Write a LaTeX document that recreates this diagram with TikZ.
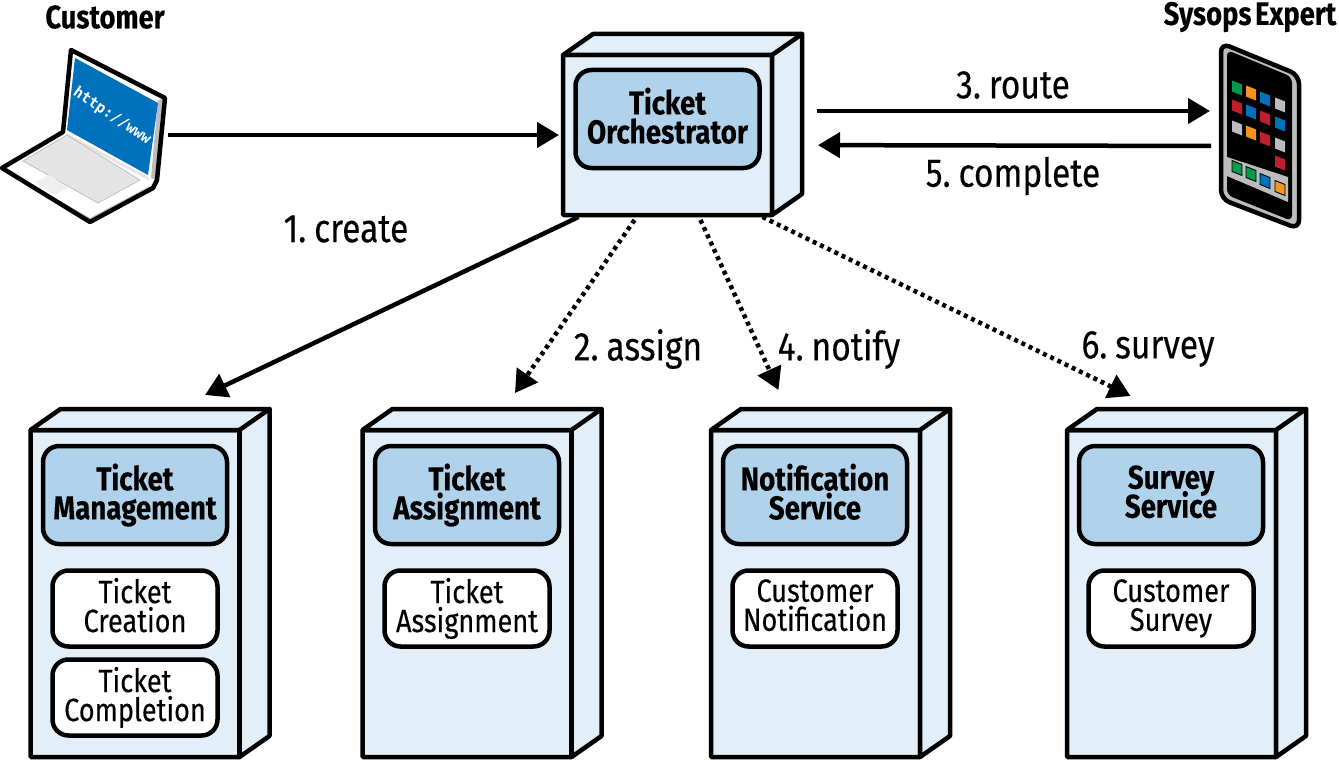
\documentclass[tikz,border=0pt]{standalone}
\usepackage{fontspec}
\setmainfont[FakeStretch=0.84, FakeBold=0.25, WordSpace=0.55, BoldFont={Fira Sans Bold}, BoldFeatures={FakeStretch=0.84, WordSpace=0.55}]{Fira Sans}
\setmonofont{DejaVu Sans Mono}
\usetikzlibrary{arrows.meta}
\definecolor{boxfill}{HTML}{E3EFF8}
\definecolor{headfill}{HTML}{B0D2EA}
\definecolor{keygrey}{HTML}{E4E4E4}
\definecolor{padgrey}{HTML}{EFEFEF}
\definecolor{lidblue}{HTML}{0071BC}
\definecolor{appgreen}{HTML}{009A4E}
\definecolor{apporange}{HTML}{F7941E}
\definecolor{appblue}{HTML}{0072BC}
\definecolor{appred}{HTML}{BE1E2D}
\definecolor{appgrey}{HTML}{BCBCBC}
\newcommand{\topfill}{\lineskiplimit=-20pt\rule{0pt}{26pt}}
\newcommand{\lowfill}{\rule[-7pt]{0pt}{7pt}}
\tikzset{
  box/.style={draw, line width=4.5pt, fill=boxfill, outer sep=0pt, inner sep=0pt, minimum width=209pt, rounded corners=1pt},
  side/.style={draw, line width=4.5pt, fill=boxfill, line join=round},
  edge3d/.style={line width=4.5pt, line cap=round},
  head/.style={draw, line width=4.5pt, fill=headfill, rounded corners=16pt, outer sep=0pt, inner sep=0pt, minimum width=184pt, minimum height=98pt, align=center, font=\fontsize{33}{29}\selectfont\bfseries, execute at begin node=\topfill, execute at end node=\lowfill},
  part/.style={draw, line width=4.5pt, fill=white, rounded corners=16pt, outer sep=0pt, inner sep=0pt, minimum width=165pt, minimum height=76pt, align=center, font=\fontsize{32.3}{29}\selectfont, execute at begin node=\topfill, execute at end node=\lowfill},
  flow/.style={line width=4.5pt, -{Triangle[length=22pt,width=25pt]}},
  dots/.style={flow, dash pattern=on 4pt off 4pt},
  word/.style={font=\fontsize{40}{40}\selectfont},
  actor/.style={font=\fontsize{32.5}{32.5}\selectfont\bfseries},
  app/.style={minimum width=10pt, minimum height=11pt, inner sep=0pt, outer sep=0pt, yslant=-0.4, transform shape},
  dock/.style={app, draw=black, line width=0.9pt},
}
\begin{document}
\begin{tikzpicture}[x=1pt, y=-1pt]
\useasboundingbox (0,0) rectangle (1339,760);
% laptop
\node[minimum width=165pt, minimum height=174pt, inner sep=0pt, outer sep=0pt] (laptop) at (83,135){};
\fill[white] (71,50) -- (165,98) -- (157,180) -- (63,132) -- cycle;
\fill[appgrey] (158,100) -- (165,98) -- (157,180) -- (151,178) -- cycle;
\fill[lidblue] (75,58) -- (158,103) -- (148,175) -- (67,130) -- cycle;
\fill[white] (63,132) -- (2,168) -- (90,222) -- (153,188) -- (152,180) -- cycle;
\fill[keygrey] (66,133) -- (148,177) -- (150,181) -- (66,136) -- cycle;
\fill[appgrey] (6,170) -- (90,218) -- (150,186) -- (150,191) -- (90,220) -- (6,172) -- cycle;
\draw[fill=keygrey, draw=appgrey, line width=0.7pt] (23,161) -- (67,135) -- (140,180) -- (98,203) -- cycle;
\fill[padgrey] (35,182) -- (50,175) -- (68,188) -- (55,195) -- cycle;
\draw[line width=4.5pt, line join=round] (63,132) -- (71,50) -- (165,98) -- (157,180) -- (153,188) -- (90,222) -- (2,168) -- cycle;
\node[text=white, rotate=-34, font=\fontsize{15}{15}\selectfont\ttfamily\bfseries, inner sep=0pt] (url) at (112,116){http://www};
\node[actor] (customer) at (105,17){Customer};
% phone
\node[minimum width=80pt, minimum height=188pt, inner sep=0pt, outer sep=0pt] (phone) at (1260,136){};
\draw[line width=4.5pt, fill=appgrey, rounded corners=9pt] (1221,43) -- (1299,75) -- (1299,229) -- (1221,199) -- cycle;
\fill[black, rounded corners=6pt] (1227,50) -- (1292,77) -- (1292,221) -- (1227,195) -- cycle;
\fill[appgrey] (1227,157) -- (1288,177) -- (1288,202) -- (1227,176) -- cycle;
\node[app, fill=appgreen] (app1) at (1237,88){};
\node[app, fill=apporange] (app2) at (1251,93){};
\node[app, fill=appblue] (app3) at (1265,99){};
\node[app, fill=appgrey] (app4) at (1280,105){};
\node[app, fill=appred] (app5) at (1237,107){};
\node[app, fill=appblue] (app6) at (1251,112){};
\node[app, fill=appred] (app7) at (1265,118){};
\node[app, fill=appblue] (app8) at (1280,124){};
\node[app, fill=appgrey] (app9) at (1237,128){};
\node[app, fill=apporange] (app10) at (1251,133){};
\node[app, fill=appred] (app11) at (1265,139){};
\node[app, fill=appgrey] (app12) at (1280,145){};
\node[app, fill=appred] (app13) at (1280,163){};
\node[dock, fill=appgreen] (app14) at (1237,168){};
\node[dock, fill=appgreen] (app15) at (1251,174){};
\node[dock, fill=appblue] (app16) at (1265,181){};
\node[dock, fill=apporange] (app17) at (1280,188){};
\node[actor] (sysops) at (1250,17){Sysops Expert};
% orchestrator
\node[box, minimum height=160pt] (orch) at (667.5,135){};
\draw[side] (orch.north west) -- ++(30,-21) -- ++(209,0) -- ++(0,160) -- ++(-30,21) -- (orch.north east) -- cycle;
\draw[edge3d] (orch.north east) -- ++(30,-21);
\draw[edge3d] (orch.north east) -- (orch.south east);
\node[head] (orchhead) at (667.5,119){Ticket\\Orchestrator};
% services
\node[box, minimum height=327pt] (mgmt) at (135,593.5){};
\draw[side] (mgmt.north west) -- ++(30,-21) -- ++(209,0) -- ++(0,327) -- ++(-30,21) -- (mgmt.north east) -- cycle;
\draw[edge3d] (mgmt.north east) -- ++(30,-21);
\draw[edge3d] (mgmt.north east) -- (mgmt.south east);
\node[head] (mgmthead) at (135,495){Ticket\\Management};
\node[part] (creation) at (135,608.5){Ticket\\Creation};
\node[part] (completion) at (135,697.5){Ticket\\Completion};
\node[box, minimum height=327pt] (assign) at (467,593.5){};
\draw[side] (assign.north west) -- ++(30,-21) -- ++(209,0) -- ++(0,327) -- ++(-30,21) -- (assign.north east) -- cycle;
\draw[edge3d] (assign.north east) -- ++(30,-21);
\draw[edge3d] (assign.north east) -- (assign.south east);
\node[head] (assignhead) at (467,495){Ticket\\Assignment};
\node[part] (assignpart) at (467,608.5){Ticket\\Assignment};
\node[box, minimum height=327pt] (notify) at (815.5,593.5){};
\draw[side] (notify.north west) -- ++(30,-21) -- ++(209,0) -- ++(0,327) -- ++(-30,21) -- (notify.north east) -- cycle;
\draw[edge3d] (notify.north east) -- ++(30,-21);
\draw[edge3d] (notify.north east) -- (notify.south east);
\node[head] (notifyhead) at (815,495){Notification\\Service};
\node[part] (notifypart) at (815,608.5){Customer\\Notification};
\node[box, minimum height=327pt] (survey) at (1171.5,593.5){};
\draw[side] (survey.north west) -- ++(30,-21) -- ++(209,0) -- ++(0,327) -- ++(-30,21) -- (survey.north east) -- cycle;
\draw[edge3d] (survey.north east) -- ++(30,-21);
\draw[edge3d] (survey.north east) -- (survey.south east);
\node[head] (surveyhead) at (1171,495){Survey\\Service};
\node[part] (surveypart) at (1171,608.5){Customer\\Survey};
% connectors
\draw[flow, shorten <=2pt, shorten >=4pt] (laptop) -- (orch);
\draw[flow, shorten <=45pt, shorten >=10pt] ([yshift=24pt]orch.east) -- ([yshift=25pt]phone.west);
\draw[flow, shorten <=9pt, shorten >=46pt] ([yshift=-10pt]phone.west) -- ([yshift=-10pt]orch.east);
\draw[flow] ([xshift=-89pt, yshift=-2pt]orch.south) -- ([xshift=70pt, yshift=35pt]mgmt.north);
\draw[dots] ([xshift=-33pt, yshift=-5pt]orch.south) -- ([xshift=48pt, yshift=37pt]assign.north);
\draw[dots] ([xshift=33pt, yshift=-5pt]orch.south) -- ([xshift=-37pt, yshift=40pt]notify.north);
\draw[dots] ([xshift=95pt, yshift=-2pt]orch.south) -- ([xshift=-41pt, yshift=34pt]survey.north);
% labels
\node[word] (create) at (346,229){1. create};
\node[word] (assignword) at (638,349){2. assign};
\node[word] (route) at (1013,85){3. route};
\node[word] (notifyword) at (839,349){4. notify};
\node[word] (complete) at (1013,176){5. complete};
\node[word] (surveyword) at (1148,349){6. survey};
\end{tikzpicture}
\end{document}
